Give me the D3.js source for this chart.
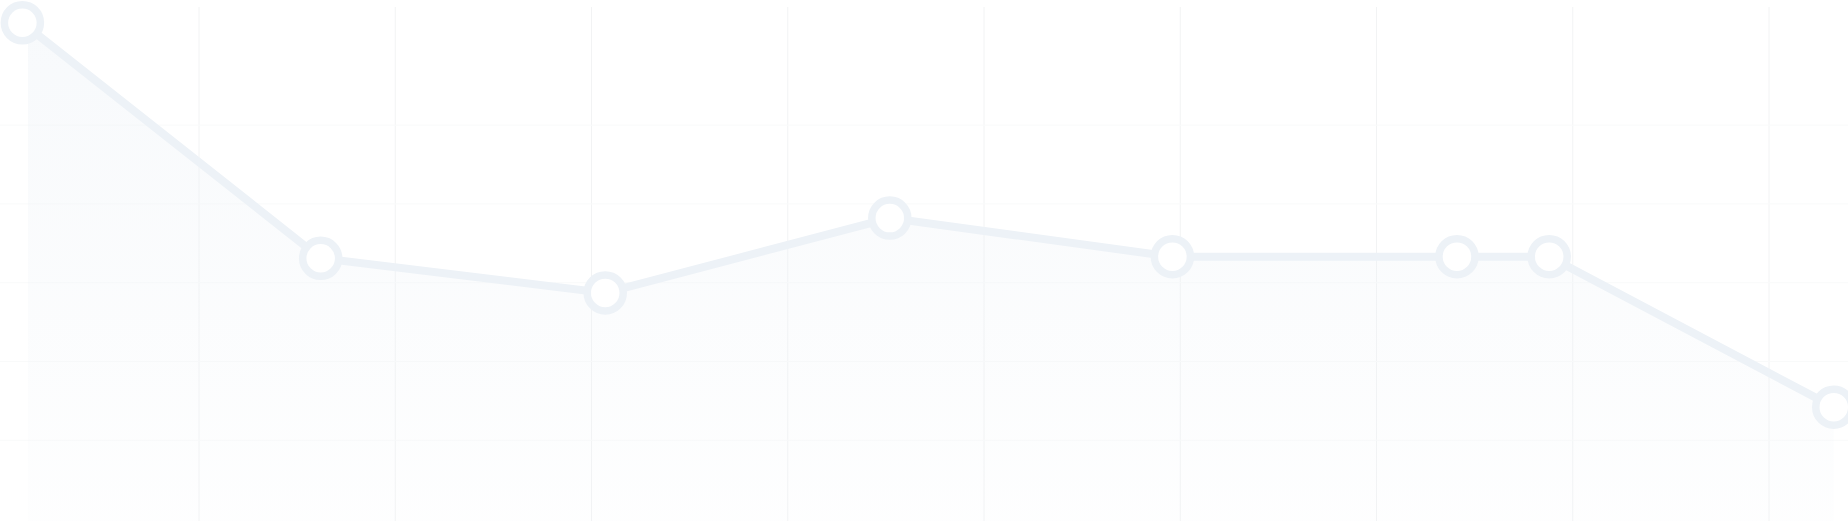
<!DOCTYPE html>
<meta charset="utf-8">
<style>
body { margin: 0; background: #fff; }
.grid line.v { stroke: #f2f3f4; stroke-width: 1px; }
.grid line.h { stroke: #f9fafa; stroke-width: 1px; }
.line { fill: none; stroke: #edf2f7; stroke-width: 8px; }
.dots circle { fill: #fff; stroke: #edf2f7; stroke-width: 7.5px; }
</style>
<script src="https://cdn.jsdelivr.net/npm/d3@7"></script>
<body>
<div id="chart"></div>
<script>
// data
var xs = [0.10, 1.62, 3.07, 4.52, 5.96, 7.41, 7.88, 9.33];
var values = [63, 33.1, 28.7, 38.2, 33.3, 33.3, 33.3, 14.2];
var xTicks = [1, 2, 3, 4, 5, 6, 7, 8, 9];
var yTicks = [10, 20, 30, 40, 50];

var w = 1848, h = 521;

var svg = d3.select("#chart").append("svg")
    .attr("width", w)
    .attr("height", h);

var x = d3.scaleLinear().domain([0, 9]).range([2.75, 1769]);
var y = d3.scaleLinear().domain([0, 65]).range([519, 7]);

var defs = svg.append("defs");
var grad = defs.append("linearGradient")
    .attr("id", "fade")
    .attr("x1", 0).attr("y1", 0).attr("x2", 0).attr("y2", 1);
grad.append("stop").attr("offset", "0%").attr("stop-color", "#edf2f7").attr("stop-opacity", 0.42);
grad.append("stop").attr("offset", "100%").attr("stop-color", "#edf2f7").attr("stop-opacity", 0.08);

defs.append("clipPath").attr("id", "plot")
  .append("rect")
    .attr("x", 28).attr("y", 0)
    .attr("width", w).attr("height", h);

// grid
var grid = svg.append("g").attr("class", "grid");
grid.selectAll(".v")
    .data(xTicks)
    .enter().append("line")
      .attr("class", "v")
      .attr("x1", function(d) { return x(d); })
      .attr("x2", function(d) { return x(d); })
      .attr("y1", y(65))
      .attr("y2", h);
grid.selectAll(".h")
    .data(yTicks)
    .enter().append("line")
      .attr("class", "h")
      .attr("x1", 0)
      .attr("x2", w)
      .attr("y1", function(d) { return y(d); })
      .attr("y2", function(d) { return y(d); });

var pts = xs.map(function(d, i) { return { x: d, v: values[i] }; });

var area = d3.area()
    .x(function(d) { return x(d.x); })
    .y0(h)
    .y1(function(d) { return y(d.v); });

var line = d3.line()
    .x(function(d) { return x(d.x); })
    .y(function(d) { return y(d.v); });

svg.append("path")
    .datum(pts)
    .attr("clip-path", "url(#plot)")
    .attr("fill", "url(#fade)")
    .attr("d", area);

svg.append("path")
    .datum(pts)
    .attr("class", "line")
    .attr("d", line);

svg.append("g")
    .attr("class", "dots")
  .selectAll("circle")
  .data(pts)
  .enter().append("circle")
    .attr("r", 18)
    .attr("cx", function(d) { return x(d.x); })
    .attr("cy", function(d) { return y(d.v); });
</script>
</body>
